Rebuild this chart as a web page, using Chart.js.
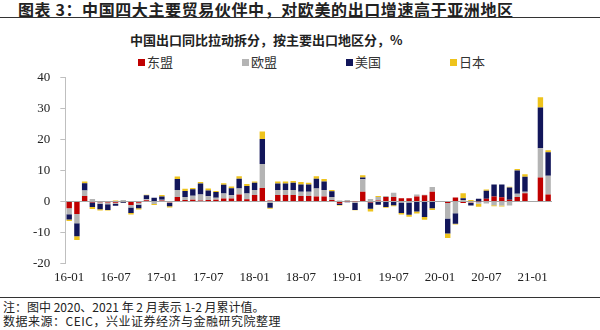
<!DOCTYPE html>
<html>
<head>
<meta charset="utf-8">
<script src="https://cdn.jsdelivr.net/npm/chart.js@4.4.1/dist/chart.umd.min.js"></script>
<style>
  body { margin: 0; width: 600px; height: 330px; background: #fff; position: relative; overflow: hidden;
         font-family: "Noto Sans CJK SC", sans-serif; color: #222; }
  #title { position: absolute; left: 18px; top: 0px; font-size: 16px; font-weight: bold; letter-spacing: 0.6px; line-height: 19px; white-space: nowrap; }
  .rule { position: absolute; left: 0; width: 600px; height: 0; border-top: 1.5px solid #333; }
  #subtitle { position: absolute; left: 130px; top: 32px; font-size: 13px; font-weight: bold; line-height: 16px; white-space: nowrap; }
  #legend { position: absolute; left: 138px; top: 54px; display: flex; }
  #legend .item { width: 104px; display: flex; align-items: center; font-size: 13px; line-height: 16px; color: #333; }
  #legend .box { width: 7px; height: 7px; margin-right: 2px; }
  #chart-box { position: absolute; left: 0; top: 60px; line-height: 0; }
  .note { position: absolute; left: 3px; font-size: 12px; line-height: 14px; white-space: nowrap; color: #222; }
</style>
</head>
<body>
<div id="title">图表 3：中国四大主要贸易伙伴中，对欧美的出口增速高于亚洲地区</div>
<div class="rule" style="top:17px"></div>
<div id="subtitle">中国出口同比拉动拆分，按主要出口地区分，%</div>
<div id="legend"></div>
<div id="chart-box"><canvas id="export-chart" width="600" height="231"></canvas></div>
<div class="rule" style="top:297px"></div>
<div class="note" style="top:300px">注：图中 2020、2021 年 2 月表示 1-2 月累计值。</div>
<div class="note" style="top:314px; letter-spacing:0.5px">数据来源：CEIC，兴业证券经济与金融研究院整理</div>

<script>
// months 16-01 .. 21-03 (20-01 and 21-01 are folded into Feb)
const months = [
  "16-01","16-02","16-03","16-04","16-05","16-06","16-07","16-08","16-09","16-10","16-11","16-12",
  "17-01","17-02","17-03","17-04","17-05","17-06","17-07","17-08","17-09","17-10","17-11","17-12",
  "18-01","18-02","18-03","18-04","18-05","18-06","18-07","18-08","18-09","18-10","18-11","18-12",
  "19-01","19-02","19-03","19-04","19-05","19-06","19-07","19-08","19-09","19-10","19-11","19-12",
  "20-01","20-02","20-03","20-04","20-05","20-06","20-07","20-08","20-09","20-10","20-11","20-12",
  "21-01","21-02","21-03"
];
const seriesNames = ["东盟", "欧盟", "美国", "日本"];
const seriesColors = ["#C00000", "#B4B4B4", "#12165A", "#EEC31C"];

const asean = [
  -2.2, -4.0, 1.8, -0.3, -0.2, -0.3, -0.4, 0.2, -1.1, -0.4, 0.4, 0.2,
  0.3, -0.2, 1.5, 0.5, 0.6, 0.3, 0.5, 0.6, 1.0, 1.0, 2.3, 0.7,
  2.1, 4.4, 0.3, 2.1, 2.1, 2.1, 1.8, 1.8, 1.6, 1.6, 0.5, -0.6,
  0.1, -0.1, 3.2, -0.3, 0.3, 1.5, 1.5, 1.1, 1.1, 1.6, 2.0, 3.2,
  null, -0.5, 1.3, -0.5, -0.2, 0.1, 0.9, 1.6, 1.4, 0.6, 1.5, 2.7,
  null, 7.8, 2.3
];
const eu = [
  -1.9, -3.0, 1.8, 0.8, -0.5, -0.6, -0.4, 0.3, -0.8, -0.6, 0.3, -0.8,
  0.3, -0.3, 2.2, 1.0, 1.3, 2.0, 1.2, 0.6, 1.6, 1.0, 1.9, 1.9,
  1.6, 7.7, -0.5, 1.6, 1.6, 1.6, 1.4, 1.4, 2.6, 2.1, 1.0, 0.3,
  0.4, -0.3, 4.0, 0.8, 1.2, 0.3, 1.3, -0.3, -0.3, 0.7, 0.2, 1.5,
  null, -5.0, -3.8, 0.5, -0.3, -0.7, -0.6, -1.2, -1.3, -1.3, 1.0, 0.5,
  null, 9.4, 6.0
];
const usa = [
  -1.7, -4.2, 2.3, -1.5, -1.8, -1.8, -0.6, -0.4, -1.8, -1.2, 1.3, 1.0,
  1.0, -1.0, 3.6, 1.9, 2.1, 3.5, 1.9, 1.9, 2.8, 2.3, 3.2, 2.4,
  2.4, 8.1, -1.5, 2.1, 2.1, 2.4, 2.3, 2.3, 3.2, 2.8, 1.8, -0.5,
  -0.2, -2.3, 0.6, -2.0, -1.0, -1.8, -1.2, -3.4, -4.0, -3.2, -5.0, -2.2,
  null, -4.8, -3.4, 0.6, -0.8, 0.8, 2.6, 3.9, 4.1, 3.9, 7.5, 4.8,
  null, 13.2, 7.6
];
const japan = [
  -0.5, -1.2, 0.6, -0.6, -0.4, -0.2, 0.3, -0.1, -0.5, -0.4, 0.2, -0.3,
  0.5, -0.4, 0.8, 0.7, 0.4, 0.5, 0.6, 0.3, 0.5, 0.6, 0.8, 0.7,
  0.4, 2.4, -0.3, 0.7, 0.7, 0.5, 0.8, 0.6, 0.8, 0.8, 0.4, -0.2,
  0.0, -0.1, 0.7, -0.9, 0.3, -0.2, -0.3, -0.5, -0.6, -0.7, -0.9, -0.5,
  null, -1.5, -0.2, 1.6, 0.5, -1.0, 0.4, -0.3, -0.3, 0.3, 0.5, 0.8,
  null, 3.3, 0.7
];
const yTicks = [-20, -10, 0, 10, 20, 30, 40];

const seriesData = [asean, eu, usa, japan];

const ctx = document.getElementById("export-chart").getContext("2d");
const chart = new Chart(ctx, {
  type: "bar",
  data: {
    labels: months,
    datasets: seriesNames.map((name, i) => ({
      label: name,
      data: seriesData[i],
      backgroundColor: seriesColors[i],
      borderWidth: 0,
      categoryPercentage: 1,
      barPercentage: 0.7,
    })),
  },
  options: {
    responsive: false,
    animation: false,
    layout: { autoPadding: false, padding: { left: 23, right: 48, top: 9.3, bottom: 0 } },
    plugins: {
      legend: { display: false },
      tooltip: { enabled: false },
    },
    scales: {
      x: {
        stacked: true,
        grid: { display: false, drawTicks: false },
        border: { display: false },
        ticks: {
          autoSkip: false,
          maxRotation: 0,
          padding: 6,
          color: "#222",
          font: { family: "Liberation Serif", size: 13 },
          callback: (val, i) => (i % 6 === 0 ? months[i] : ""),
        },
      },
      y: {
        stacked: true,
        min: yTicks[0],
        max: yTicks[yTicks.length - 1],
        afterBuildTicks: (axis) => { axis.ticks = yTicks.map((v) => ({ value: v })); },
        grid: {
          color: (c) => (c.tick && c.tick.value === 0 ? "#A6A6A6" : "rgba(0,0,0,0)"),
          tickColor: "#BFBFBF",
          tickLength: 5,
          drawTicks: true,
        },
        border: { display: true, color: "#BFBFBF", width: 1 },
        ticks: {
          padding: 10,
          color: "#222",
          font: { family: "Liberation Serif", size: 13 },
        },
      },
    },
  },
});

// legend built from the chart's own datasets
const legendEl = document.getElementById("legend");
chart.data.datasets.forEach((ds) => {
  const item = document.createElement("div");
  item.className = "item";
  const box = document.createElement("span");
  box.className = "box";
  box.style.background = ds.backgroundColor;
  const txt = document.createElement("span");
  txt.textContent = ds.label;
  item.appendChild(box);
  item.appendChild(txt);
  legendEl.appendChild(item);
});
</script>
</body>
</html>
